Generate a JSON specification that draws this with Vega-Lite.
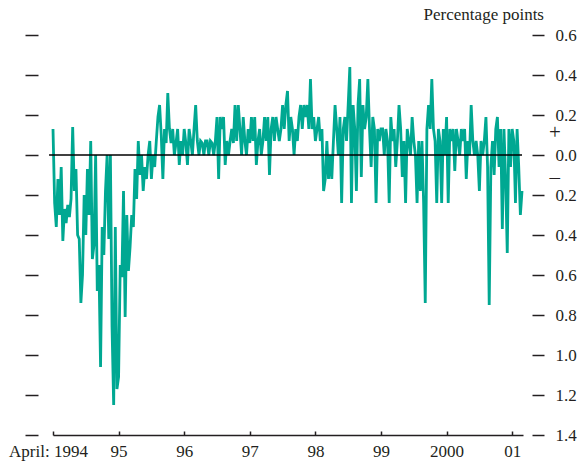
{
  "$schema": "https://vega.github.io/schema/vega-lite/v6.json",
  "width": 470,
  "height": 400,
  "autosize": {"type": "none"},
  "padding": {"left": 53, "top": 35, "right": 63, "bottom": 26},
  "background": "white",
  "config": {"view": {"stroke": null}, "font": "Liberation Serif"},
  "title": {"text": "Percentage points", "anchor": "end", "frame": "group", "dx": 21, "offset": 2, "fontSize": 17, "fontWeight": "normal", "font": "Liberation Serif", "color": "#231f20"},
  "datasets": {
    "s": [
      {"n":0,"v":0.13},{"n":1,"v":-0.24},{"n":2,"v":-0.36},{"n":3,"v":-0.12},{"n":4,"v":-0.30},{"n":5,"v":-0.06},{"n":6,"v":-0.43},{"n":7,"v":-0.27},{"n":8,"v":-0.34},{"n":9,"v":-0.25},
      {"n":10,"v":-0.31},{"n":11,"v":-0.22},{"n":12,"v":0.14},{"n":13,"v":-0.18},{"n":14,"v":-0.07},{"n":15,"v":-0.40},{"n":16,"v":-0.42},{"n":17,"v":-0.74},{"n":18,"v":-0.60},{"n":19,"v":-0.20},
      {"n":20,"v":-0.40},{"n":21,"v":-0.07},{"n":22,"v":-0.30},{"n":23,"v":0.07},{"n":24,"v":-0.52},{"n":25,"v":-0.45},{"n":26,"v":0.00},{"n":27,"v":-0.68},{"n":28,"v":-0.55},{"n":29,"v":-1.06},
      {"n":30,"v":-0.36},{"n":31,"v":-0.50},{"n":32,"v":-0.18},{"n":33,"v":0.00},{"n":34,"v":-0.42},{"n":35,"v":0.00},{"n":36,"v":-0.86},{"n":37,"v":-1.25},{"n":38,"v":-0.36},{"n":39,"v":-1.17},
      {"n":40,"v":-1.11},{"n":41,"v":-0.55},{"n":42,"v":-0.61},{"n":43,"v":-0.18},{"n":44,"v":-0.81},{"n":45,"v":-0.30},{"n":46,"v":-0.58},{"n":47,"v":-0.46},{"n":48,"v":-0.30},{"n":49,"v":-0.36},
      {"n":50,"v":-0.07},{"n":51,"v":-0.22},{"n":52,"v":0.07},{"n":53,"v":-0.10},{"n":54,"v":0.00},{"n":55,"v":-0.18},{"n":56,"v":-0.06},{"n":57,"v":-0.12},{"n":58,"v":0.00},{"n":59,"v":0.07},
      {"n":60,"v":-0.12},{"n":61,"v":0.00},{"n":62,"v":-0.06},{"n":63,"v":0.07},{"n":64,"v":0.19},{"n":65,"v":0.25},{"n":66,"v":0.10},{"n":67,"v":-0.12},{"n":68,"v":0.13},{"n":69,"v":0.06},
      {"n":70,"v":0.31},{"n":71,"v":0.13},{"n":72,"v":0.06},{"n":73,"v":0.13},{"n":74,"v":0.00},{"n":75,"v":0.06},{"n":76,"v":0.13},{"n":77,"v":-0.05},{"n":78,"v":0.07},{"n":79,"v":0.00},
      {"n":80,"v":0.13},{"n":81,"v":0.06},{"n":82,"v":-0.05},{"n":83,"v":0.13},{"n":84,"v":0.07},{"n":85,"v":0.00},{"n":86,"v":0.13},{"n":87,"v":0.25},{"n":88,"v":0.07},{"n":89,"v":0.00},
      {"n":90,"v":0.07},{"n":91,"v":0.06},{"n":92,"v":0.00},{"n":93,"v":0.07},{"n":94,"v":0.07},{"n":95,"v":0.00},{"n":96,"v":0.07},{"n":97,"v":0.06},{"n":98,"v":0.00},{"n":99,"v":0.07},
      {"n":100,"v":0.19},{"n":101,"v":-0.12},{"n":102,"v":0.19},{"n":103,"v":0.13},{"n":104,"v":0.19},{"n":105,"v":-0.05},{"n":106,"v":0.07},{"n":107,"v":0.00},{"n":108,"v":0.07},{"n":109,"v":0.13},
      {"n":110,"v":0.06},{"n":111,"v":0.25},{"n":112,"v":0.07},{"n":113,"v":0.25},{"n":114,"v":0.13},{"n":115,"v":0.00},{"n":116,"v":0.19},{"n":117,"v":0.07},{"n":118,"v":0.00},{"n":119,"v":0.13},
      {"n":120,"v":0.06},{"n":121,"v":0.19},{"n":122,"v":0.07},{"n":123,"v":0.19},{"n":124,"v":-0.05},{"n":125,"v":0.07},{"n":126,"v":0.13},{"n":127,"v":0.00},{"n":128,"v":0.07},{"n":129,"v":0.19},
      {"n":130,"v":0.07},{"n":131,"v":0.19},{"n":132,"v":-0.10},{"n":133,"v":0.13},{"n":134,"v":0.19},{"n":135,"v":0.07},{"n":136,"v":0.19},{"n":137,"v":0.13},{"n":138,"v":0.07},{"n":139,"v":0.13},
      {"n":140,"v":0.25},{"n":141,"v":0.13},{"n":142,"v":0.25},{"n":143,"v":0.32},{"n":144,"v":0.07},{"n":145,"v":0.19},{"n":146,"v":0.13},{"n":147,"v":0.00},{"n":148,"v":0.13},{"n":149,"v":0.07},
      {"n":150,"v":0.19},{"n":151,"v":0.25},{"n":152,"v":0.13},{"n":153,"v":0.25},{"n":154,"v":0.19},{"n":155,"v":0.25},{"n":156,"v":0.13},{"n":157,"v":0.38},{"n":158,"v":0.13},{"n":159,"v":0.19},
      {"n":160,"v":0.07},{"n":161,"v":0.13},{"n":162,"v":0.19},{"n":163,"v":0.07},{"n":164,"v":0.13},{"n":165,"v":-0.18},{"n":166,"v":-0.12},{"n":167,"v":0.07},{"n":168,"v":-0.12},{"n":169,"v":0.00},
      {"n":170,"v":-0.12},{"n":171,"v":0.07},{"n":172,"v":0.25},{"n":173,"v":0.13},{"n":174,"v":0.00},{"n":175,"v":0.19},{"n":176,"v":-0.24},{"n":177,"v":0.13},{"n":178,"v":0.19},{"n":179,"v":0.07},
      {"n":180,"v":0.25},{"n":181,"v":0.44},{"n":182,"v":-0.24},{"n":183,"v":0.25},{"n":184,"v":0.13},{"n":185,"v":-0.18},{"n":186,"v":0.25},{"n":187,"v":0.38},{"n":188,"v":-0.11},{"n":189,"v":0.25},
      {"n":190,"v":0.13},{"n":191,"v":0.19},{"n":192,"v":0.38},{"n":193,"v":0.13},{"n":194,"v":-0.06},{"n":195,"v":0.19},{"n":196,"v":0.13},{"n":197,"v":-0.24},{"n":198,"v":0.13},{"n":199,"v":0.07},
      {"n":200,"v":0.13},{"n":201,"v":0.13},{"n":202,"v":0.00},{"n":203,"v":0.13},{"n":204,"v":0.07},{"n":205,"v":-0.24},{"n":206,"v":0.19},{"n":207,"v":0.07},{"n":208,"v":0.13},{"n":209,"v":-0.06},
      {"n":210,"v":0.07},{"n":211,"v":0.25},{"n":212,"v":0.13},{"n":213,"v":-0.11},{"n":214,"v":0.07},{"n":215,"v":-0.24},{"n":216,"v":0.13},{"n":217,"v":0.07},{"n":218,"v":0.00},{"n":219,"v":0.19},
      {"n":220,"v":0.07},{"n":221,"v":0.00},{"n":222,"v":-0.24},{"n":223,"v":0.07},{"n":224,"v":-0.18},{"n":225,"v":0.07},{"n":226,"v":-0.24},{"n":227,"v":-0.74},{"n":228,"v":0.13},{"n":229,"v":0.25},
      {"n":230,"v":0.13},{"n":231,"v":0.38},{"n":232,"v":0.13},{"n":233,"v":0.07},{"n":234,"v":-0.24},{"n":235,"v":0.13},{"n":236,"v":0.07},{"n":237,"v":-0.24},{"n":238,"v":0.13},{"n":239,"v":0.00},
      {"n":240,"v":0.19},{"n":241,"v":-0.24},{"n":242,"v":0.13},{"n":243,"v":0.07},{"n":244,"v":0.13},{"n":245,"v":-0.08},{"n":246,"v":0.13},{"n":247,"v":0.07},{"n":248,"v":0.00},{"n":249,"v":0.13},
      {"n":250,"v":0.07},{"n":251,"v":0.13},{"n":252,"v":-0.12},{"n":253,"v":0.07},{"n":254,"v":0.00},{"n":255,"v":0.25},{"n":256,"v":0.07},{"n":257,"v":0.00},{"n":258,"v":0.07},{"n":259,"v":0.00},
      {"n":260,"v":-0.18},{"n":261,"v":0.07},{"n":262,"v":0.00},{"n":263,"v":0.07},{"n":264,"v":0.19},{"n":265,"v":-0.06},{"n":266,"v":-0.75},{"n":267,"v":-0.06},{"n":268,"v":0.07},{"n":269,"v":-0.10},
      {"n":270,"v":0.13},{"n":271,"v":0.19},{"n":272,"v":-0.06},{"n":273,"v":0.13},{"n":274,"v":-0.37},{"n":275,"v":0.13},{"n":276,"v":-0.12},{"n":277,"v":-0.49},{"n":278,"v":0.13},{"n":279,"v":-0.06},
      {"n":280,"v":0.13},{"n":281,"v":0.07},{"n":282,"v":-0.24},{"n":283,"v":0.13},{"n":284,"v":-0.06},{"n":285,"v":-0.30},{"n":286,"v":-0.18}
    ]
  },
  "layer": [
    {
      "data": {"name": "s"},
      "mark": {"type": "line", "color": "#00a892", "strokeWidth": 2.8, "interpolate": "linear"},
      "encoding": {
        "x": {
          "field": "n", "type": "quantitative",
          "scale": {"domain": [0, 286.6], "nice": false, "zero": false},
          "axis": {
            "title": null, "grid": false,
            "values": [0, 40, 80, 120, 160, 200, 240, 280],
            "labelExpr": "['April: 1994','95','96','97','98','99','2000','01'][round(datum.value/40)]",
            "tickSize": -4, "tickColor": "#231f20", "tickWidth": 1.5,
            "domainColor": "#231f20", "domainWidth": 1.5,
            "labelFont": "Liberation Serif", "labelFontSize": 17, "labelColor": "#231f20",
            "labelPadding": 12, "labelFlush": false, "labelOverlap": false,
            "labelOffset": {"condition": {"test": "datum.value == 0", "value": -5}, "value": 0}
          }
        },
        "y": {
          "field": "v", "type": "quantitative",
          "scale": {"domain": [-1.4, 0.6], "nice": false, "zero": false},
          "axis": {
            "orient": "left", "title": null, "grid": false, "domain": false, "labels": false,
            "values": [-1.4, -1.2, -1, -0.8, -0.6, -0.4, -0.2, 0, 0.2, 0.4, 0.6],
            "offset": 15, "tickSize": 13, "tickColor": "#231f20", "tickWidth": 1.5
          }
        }
      }
    },
    {
      "data": {"values": [{}]},
      "mark": {"type": "rule", "color": "#000000", "strokeWidth": 1.5},
      "encoding": {
        "x": {"datum": -2.4, "type": "quantitative", "scale": {"domain": [0, 286.6], "nice": false, "zero": false}},
        "x2": {"datum": 286},
        "y": {
          "datum": 0, "type": "quantitative",
          "scale": {"domain": [-1.4, 0.6], "nice": false, "zero": false},
          "axis": {
            "orient": "right", "title": null, "grid": false, "domain": false,
            "values": [-1.4, -1.2, -1, -0.8, -0.6, -0.4, -0.2, 0, 0.2, 0.4, 0.6],
            "labelExpr": "format(abs(datum.value), '.1f')",
            "offset": 9, "tickSize": 12, "tickColor": "#231f20", "tickWidth": 1.5,
            "labelPadding": 11, "labelFont": "Liberation Serif", "labelFontSize": 17, "labelColor": "#231f20"
          }
        }
      }
    },
    {
      "data": {"values": [{"s": "+", "v": 0.11}, {"s": "–", "v": -0.115}]},
      "mark": {"type": "text", "font": "Liberation Serif", "fontSize": 21, "color": "#231f20", "align": "center", "baseline": "middle"},
      "encoding": {
        "x": {"datum": 306, "type": "quantitative", "scale": {"domain": [0, 286.6], "nice": false, "zero": false}},
        "y": {"field": "v", "type": "quantitative", "scale": {"domain": [-1.4, 0.6], "nice": false, "zero": false}, "axis": null},
        "text": {"field": "s"}
      }
    }
  ],
  "resolve": {"axis": {"y": "independent"}}
}
